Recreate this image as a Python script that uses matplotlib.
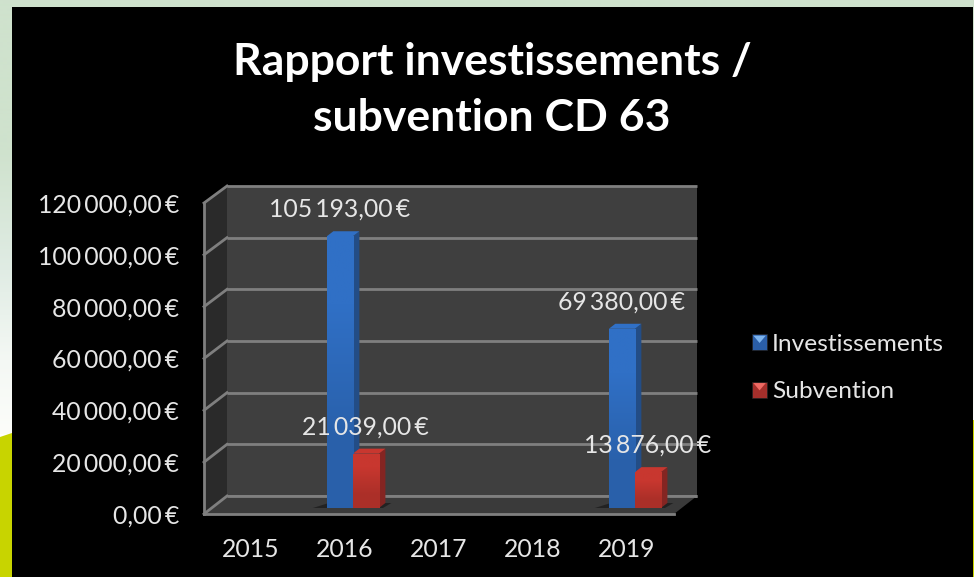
import numpy as np
import matplotlib
matplotlib.use('Agg')
import matplotlib.pyplot as plt
from matplotlib.colors import to_rgb
from matplotlib.legend_handler import HandlerPatch
from matplotlib.patches import Patch, Polygon

W = 974
H = 577

annees = ['2015', '2016', '2017', '2018', '2019']
investissements = [0, 105193, 0, 0, 69380]
subvention = [0, 21039, 0, 0, 13876]
labels_inv = ['', '105\u2009193,00\u2009€', '', '', '69\u2009380,00\u2009€']
labels_sub = ['', '21\u2009039,00\u2009€', '', '', '13\u2009876,00\u2009€']
graduations = [0, 20000, 40000, 60000, 80000, 100000, 120000]
labels_y = ['0,00\u2009€', '20\u2009000,00\u2009€', '40\u2009000,00\u2009€', '60\u2009000,00\u2009€',
            '80\u2009000,00\u2009€', '100\u2009000,00\u2009€', '120\u2009000,00\u2009€']

plt.rcParams['font.family'] = ['Lato', 'DejaVu Sans']

COUL_TEXTE = '#e6e6e6'
COUL_GRILLE = '#7f7f7f'


def axes_px(fig, x0, x1, y_haut, y_bas):
    # axes placed with pixel values measured from the top left corner
    ax = fig.add_axes([x0 / W, 1 - y_bas / H, (x1 - x0) / W, (y_bas - y_haut) / H])
    ax.set_xlim(-0.5, 4.5)
    ax.set_ylim(0, 120000)
    return ax


def poly_px(ax_dest, pts, **kw):
    ax_dest.add_patch(Polygon(pts, transform=None, closed=True, clip_on=False, **kw))


class HandlerCube(HandlerPatch):
    # legend key: dark square with a lighter notch on its top side
    def __init__(self, clair):
        super().__init__()
        self.clair = clair

    def create_artists(self, legend, orig, xd, yd, w, h, fontsize, trans):
        carre = plt.Rectangle((-xd, -yd), w, h, facecolor=orig.get_facecolor(),
                              edgecolor='#222222', linewidth=0.5, transform=trans)
        pointe = Polygon([(-xd + 1, -yd + h - 1), (-xd + w - 1, -yd + h - 1),
                          (-xd + w / 2, -yd + h * 0.45)],
                         facecolor=self.clair, edgecolor='none', transform=trans)
        return [carre, pointe]


fig = plt.figure(figsize=(W / 100, H / 100), dpi=100)

# slide background
fond = fig.add_axes([0, 0, 1, 1], zorder=0)
fond.axis('off')
couleurs = np.array([[207, 226, 205], [207, 226, 205], [224, 236, 228],
                     [244, 248, 244], [252, 253, 250]]) / 255
hauteurs = np.array([0, 150, 270, 360, 434])
lignes = np.arange(435)
degrade = np.stack([np.interp(lignes, hauteurs, couleurs[:, i]) for i in range(3)], axis=1)
fond.imshow(degrade[:, None, :], extent=[0, W, 434, 0], aspect='auto', zorder=1)
fond.set_xlim(0, W)
fond.set_ylim(H, 0)
fond.add_patch(Polygon([(0, 437), (12, 433), (W, 420), (W, H), (0, H)], facecolor='#c8d400', zorder=2))
fond.add_patch(plt.Rectangle((12, 7), 961, H - 7, facecolor='black', zorder=3))

fig.text(492 / W, 1 - 90 / H, 'Rapport investissements /\nsubvention CD 63', color='white',
         fontsize=32, fontweight='bold', ha='center', va='center', linespacing=1.5, zorder=5)

# back wall, gridlines
mur = axes_px(fig, 227, 697, 186, 496)
mur.set_zorder(1)
mur.set_facecolor('#3f3f3f')
mur.set_yticks(graduations)
mur.set_xticks([])
mur.grid(axis='y', color=COUL_GRILLE, linewidth=2, clip_on=False, solid_capstyle='butt')
mur.set_axisbelow(True)
mur.tick_params(left=False, labelleft=False)
for s in mur.spines.values():
    s.set_visible(False)

# front plane, carries the tick labels
avant = axes_px(fig, 204, 674, 203, 514)
avant.set_zorder(2)
avant.patch.set_alpha(0)
avant.set_xticks(range(len(annees)), annees)
avant.set_yticks(graduations, labels_y)
avant.tick_params(colors=COUL_TEXTE, labelsize=17.8, length=0)
avant.tick_params(axis='y', pad=18)
avant.tick_params(axis='x', pad=17)
for s in avant.spines.values():
    s.set_visible(False)
for s in ['left', 'bottom']:
    avant.spines[s].set_visible(True)
    avant.spines[s].set_color(COUL_GRILLE)
    avant.spines[s].set_linewidth(2)

fig.canvas.draw()

# left wall and floor between the two planes
m = mur.transData
a = avant.transData
for v in graduations:
    avant.plot(*np.array([a.transform((-0.5, v)), m.transform((-0.5, v))]).T,
               transform=None, color=COUL_GRILLE, lw=2, clip_on=False, zorder=3)
poly_px(avant, [a.transform((-0.5, 0)), a.transform((-0.5, 120000)),
                m.transform((-0.5, 120000)), m.transform((-0.5, 0))],
        facecolor='#2a2a2a', zorder=1)
poly_px(avant, [a.transform((-0.5, 0)), a.transform((4.5, 0)),
                m.transform((4.5, 0)), m.transform((-0.5, 0))],
        facecolor='#3a3a3a', zorder=1)
# back edge of the floor, the polygon above would hide half of it
avant.plot(*np.array([m.transform((-0.5, 0)), m.transform((4.5, 0))]).T,
           transform=None, color=COUL_GRILLE, lw=2, clip_on=False, zorder=2, solid_capstyle='butt')

# bars sit in a plane between wall and front
barres = axes_px(fig, 211.4, 681.4, 198, 508)
barres.set_zorder(3)
barres.axis('off')
x = np.arange(len(annees))
larg = 0.277
DX, DY = 6.5, 5
t = barres.transData


def cube(xs, vals, face, cote, dessus):
    for xi, v in zip(xs, vals):
        if v == 0:
            continue
        g, b = t.transform((xi - larg / 2, 0))
        d, h = t.transform((xi + larg / 2, v))
        # shadow on the floor
        poly_px(barres, [(g - 14, b), (d + 4, b), (d + DX + 6, b + DY), (g + 2, b + DY)],
                facecolor='#222222', zorder=1)
        poly_px(barres, [(d, b), (d + DX, b + DY), (d + DX, h + DY), (d, h)], facecolor=cote, zorder=2)
        poly_px(barres, [(g, h), (d, h), (d + DX, h + DY), (g + DX, h + DY)], facecolor=dessus, zorder=2)
    rects = barres.bar(xs, vals, width=larg, color=face, zorder=3)
    # front face gets darker towards the floor
    c = np.array(to_rgb(face))
    grad = np.array([c, c * 0.86])[:, None, :]
    for r in rects:
        if r.get_height() == 0:
            continue
        im = barres.imshow(grad, aspect='auto', zorder=4, interpolation='bilinear',
                           extent=[r.get_x(), r.get_x() + r.get_width(), 0, r.get_height()])
        im.set_clip_path(r)


cube(x - larg / 2 + 0.005, investissements, '#3070c6', '#234d86', '#3070c6')
cube(x + larg / 2 + 0.005, subvention, '#c8372f', '#842522', '#c8372f')
barres.set_xlim(-0.5, 4.5)
barres.set_ylim(0, 120000)

for xi, v, txt in zip(x - larg / 2, investissements, labels_inv):
    if txt:
        barres.annotate(txt, (xi, v), xytext=(0, 11), textcoords='offset points', ha='center',
                        va='bottom', color=COUL_TEXTE, fontsize=17.8, zorder=6, annotation_clip=False)
for xi, v, txt in zip(x + larg / 2, subvention, labels_sub):
    if txt:
        barres.annotate(txt, (xi, v), xytext=(0, 11), textcoords='offset points', ha='center',
                        va='bottom', color=COUL_TEXTE, fontsize=17.8, zorder=6, annotation_clip=False)

p_inv = Patch(facecolor='#2a5ea8', label='Investissements')
p_sub = Patch(facecolor='#a52f2b', label='Subvention')
leg = fig.legend(handles=[p_inv, p_sub], loc='center left', bbox_to_anchor=(752 / W, 1 - 368 / H),
                 frameon=False, fontsize=17.6, labelcolor=COUL_TEXTE, handlelength=0.62, handleheight=0.62,
                 handletextpad=0.2, labelspacing=1.08, borderpad=0, borderaxespad=0,
                 handler_map={p_inv: HandlerCube('#7db4ee'), p_sub: HandlerCube('#f06a64')})
leg.set_zorder(6)

fig.savefig('out.png', dpi=100)
